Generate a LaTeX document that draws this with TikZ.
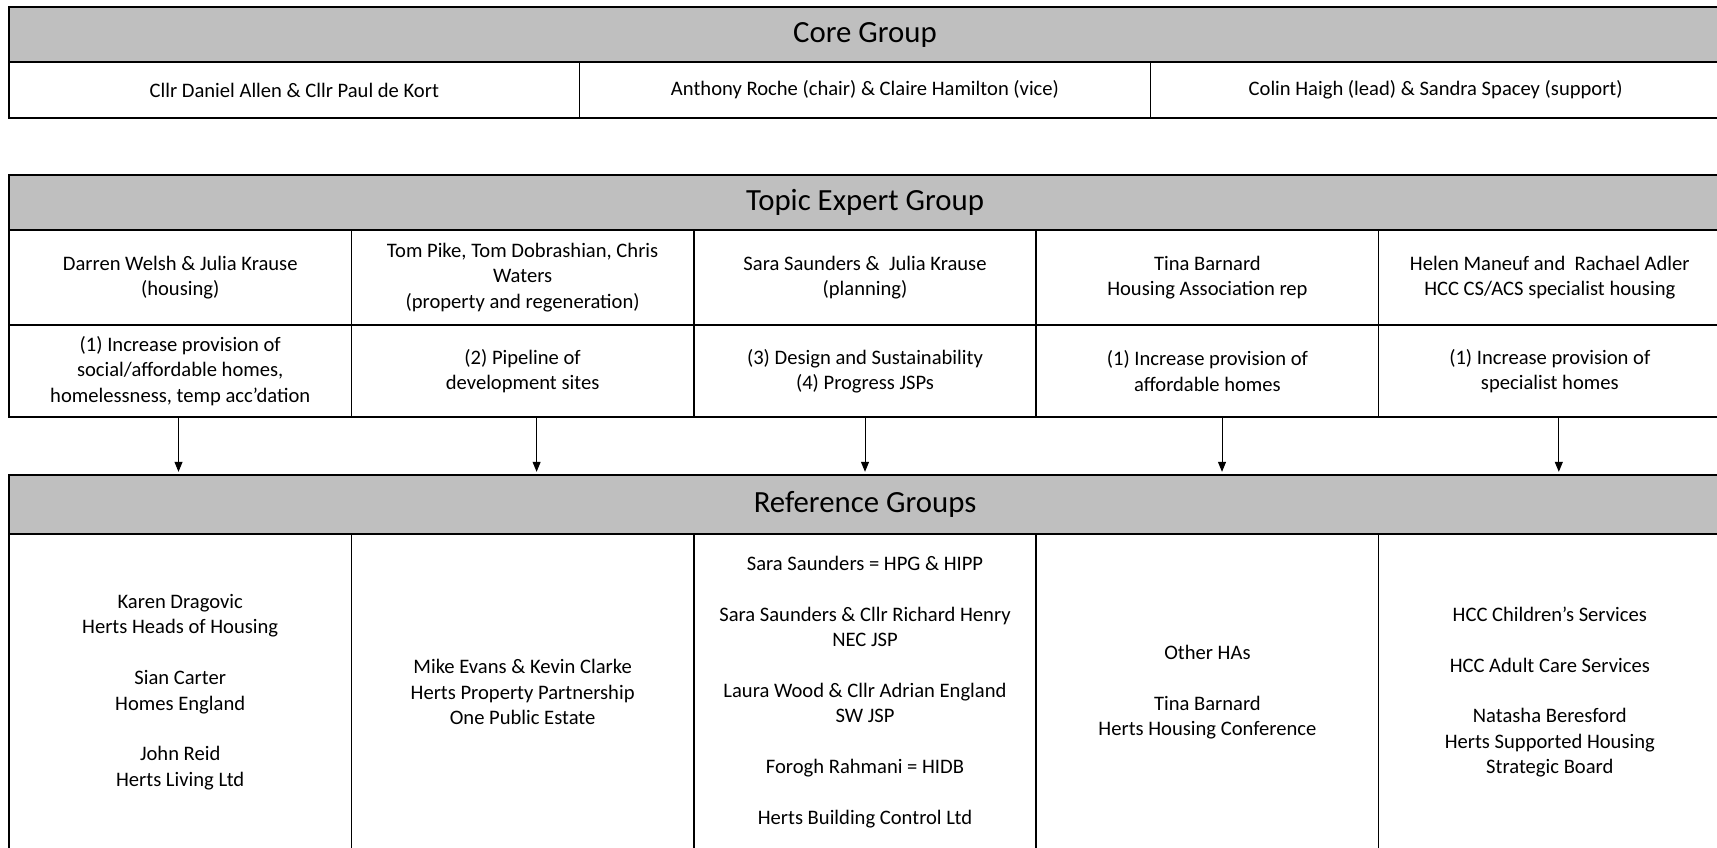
\documentclass[tikz,border=0pt]{standalone}
\usepackage{fontspec}
\setmainfont{Carlito}
\usetikzlibrary{arrows.meta}
\tikzset{
  cell/.style={draw=black, line width=0.8pt, inner sep=0pt, align=center,
    font=\fontsize{10.3}{12.7}\selectfont, minimum width=#1},
  cell/.default=171.2pt,
  headcell/.style={cell=856pt, fill=headgray, font=\fontsize{15.4}{18}\selectfont, minimum height=27.5pt},
  arr/.style={draw=black, line width=0.5pt, -{Triangle[width=4pt,length=5pt]}, shorten >=1.2pt},
}
\definecolor{headgray}{RGB}{191,191,191}
\begin{document}
\begin{tikzpicture}[x=0.5pt,y=-0.5pt]
\useasboundingbox (0,0) rectangle (1717,847);
\clip (0,0) rectangle (1717,847);
\fill[white] (0,0) rectangle (1717,847);
% Core group
\node[headcell] (ch) at (865,34.5) {Core Group};
\node[cell=285.33pt, minimum height=28pt] (c1) at (294.3,90) {Cllr Daniel Allen \& Cllr Paul de Kort};
\node[cell=285.33pt, minimum height=28pt] (c2) at (865,90) {Anthony Roche (chair) \& Claire Hamilton (vice)};
\node[cell=285.33pt, minimum height=28pt] (c3) at (1435.7,90) {Colin Haigh (lead) \& Sandra Spacey (support)};
% Topic expert group
\node[headcell] (th) at (865,202.5) {Topic Expert Group};
\node[cell, minimum height=47.5pt] (ta1) at (180.2,277.5) {Darren Welsh \& Julia Krause\\(housing)};
\node[cell, minimum height=47.5pt] (ta2) at (522.6,277.5) {Tom Pike, Tom Dobrashian, Chris\\Waters\\(property and regeneration)};
\node[cell, minimum height=47.5pt] (ta3) at (865,277.5) {Sara Saunders \&\ \ Julia Krause\\(planning)};
\node[cell, minimum height=47.5pt] (ta4) at (1207.4,277.5) {Tina Barnard\\Housing Association rep};
\node[cell, minimum height=47.5pt] (ta5) at (1549.8,277.5) {Helen Maneuf and\ \ Rachael Adler\\HCC CS/ACS specialist housing};
\node[cell, minimum height=46pt] (tb1) at (180.2,371) {(1) Increase provision of\\social/affordable homes,\\homelessness, temp acc’dation};
\node[cell, minimum height=46pt] (tb2) at (522.6,371) {(2) Pipeline of\\development sites};
\node[cell, minimum height=46pt] (tb3) at (865,371) {(3) Design and Sustainability\\(4) Progress JSPs};
\node[cell, minimum height=46pt] (tb4) at (1207.4,371) {(1) Increase provision of\\affordable homes};
\node[cell, minimum height=46pt] (tb5) at (1549.8,371) {(1) Increase provision of\\specialist homes};
% Reference groups
\node[headcell, minimum height=29.5pt] (rh) at (865,504.5) {Reference Groups};
\node[cell, minimum height=158pt] (r1) at (180.2,692) {Karen Dragovic\\Herts Heads of Housing\\[12.7pt]Sian Carter\\Homes England\\[12.7pt]John Reid\\Herts Living Ltd};
\node[cell, minimum height=158pt] (r2) at (522.6,692) {Mike Evans \& Kevin Clarke\\Herts Property Partnership\\One Public Estate};
\node[cell, minimum height=158pt] (r3) at (865,692) {Sara Saunders = HPG \& HIPP\\[12.7pt]Sara Saunders \& Cllr Richard Henry\\NEC JSP\\[12.7pt]Laura Wood \& Cllr Adrian England\\SW JSP\\[12.7pt]Forogh Rahmani = HIDB\\[12.7pt]Herts Building Control Ltd};
\node[cell, minimum height=158pt] (r4) at (1207.4,692) {Other HAs\\[12.7pt]Tina Barnard\\Herts Housing Conference};
\node[cell, minimum height=158pt] (r5) at (1549.8,692) {HCC Children’s Services\\[12.7pt]HCC Adult Care Services\\[12.7pt]Natasha Beresford\\Herts Supported Housing\\Strategic Board};
% Arrows
\path (tb1.south) ++(-1.7,0) coordinate (s1);
\path (tb2.south) ++(14,0) coordinate (s2);
\path (tb3.south) ++(0,0) coordinate (s3);
\path (tb4.south) ++(14.6,0) coordinate (s4);
\path (tb5.south) ++(9,0) coordinate (s5);
\foreach \i in {1,...,5}{
  \draw[arr] (s\i) -- (s\i |- rh.north);
}
\end{tikzpicture}
\end{document}
